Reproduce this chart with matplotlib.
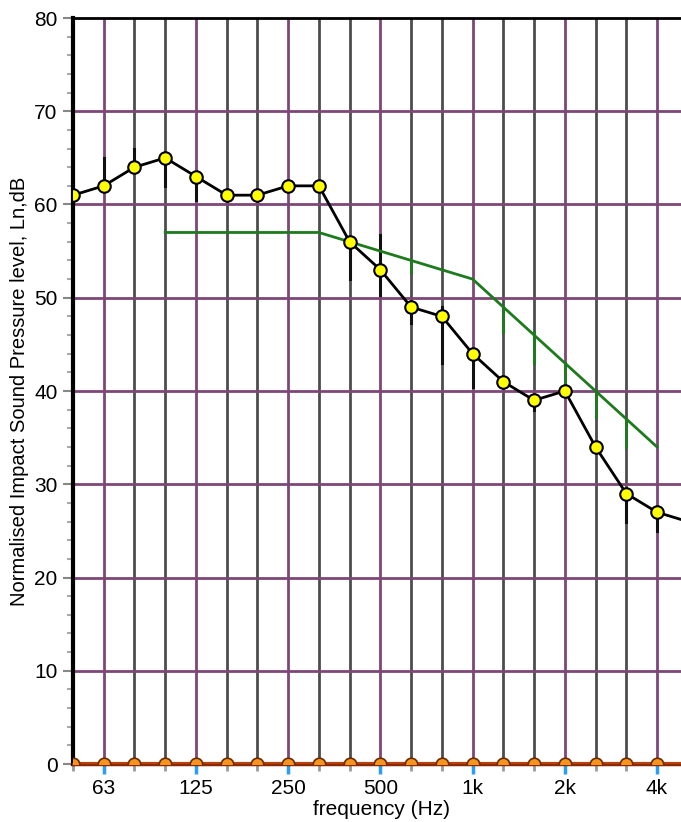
import numpy as np
import matplotlib
matplotlib.use("Agg")
import matplotlib.pyplot as plt
from matplotlib.ticker import FixedLocator, MultipleLocator

plt.rcParams['font.family'] = ['Liberation Sans', 'DejaVu Sans']

# ---------------- data ----------------
bands = ['50', '63', '80', '100', '125', '160', '200', '250', '315', '400', '500',
         '630', '800', '1k', '1.25k', '1.6k', '2k', '2.5k', '3.15k', '4k', '5k']
labelled = ['63', '125', '250', '500', '1k', '2k', '4k']
ln_values = [61, 62, 64, 65, 63, 61, 61, 62, 62, 56, 53, 49, 48, 44, 41, 39, 40, 34, 29, 27, 26]

ref_bands = ['100', '125', '160', '200', '250', '315', '400', '500', '630', '800', '1k',
             '1.25k', '1.6k', '2k', '2.5k', '3.15k', '4k']
ref_values = [57, 57, 57, 57, 57, 57, 56, 55, 54, 53, 52, 49, 46, 43, 40, 37, 34]

# vertical spread bars of the measured series
bar_bands = ['63', '80', '100', '125', '400', '500', '630', '800', '1k', '1.6k', '3.15k', '4k']
bar_low = [62, 64, 62, 60.5, 52, 50.3, 47.3, 43, 40.4, 38, 26, 25]
bar_high = [65, 66, 65, 63, 56, 56.7, 49, 49, 44, 39, 29, 27]

# green drop segments of the reference curve
drop_bands = ['630', '1.25k', '1.6k', '2k', '2.5k', '3.15k']
drop_high = [54, 49, 46.3, 43, 40, 37]
drop_low = [52.8, 46.3, 43, 40.8, 37.2, 34]

zero_values = [0] * len(bands)

# ---------------- figure ----------------
fig = plt.figure(figsize=(6.81, 8.22), dpi=100)
ax = fig.add_axes([73 / 681, 58 / 822, 1 - 73 / 681, 746 / 822])

pos = {b: i for i, b in enumerate(bands)}
x_all = np.arange(len(bands))

purple = '#7d4677'
dark = '#2e2e2e'

# grid lines
for b, i in pos.items():
    if b in labelled:
        ax.axvline(i, color=purple, lw=2.0, zorder=1)
    else:
        ax.axvline(i, color=dark, lw=2.0, alpha=0.85, zorder=1)
for yv in range(10, 80, 10):
    ax.axhline(yv, color=purple, lw=2.0, zorder=1)

# spread bars
for b, lo, hi in zip(bar_bands, bar_low, bar_high):
    ax.plot([pos[b], pos[b]], [lo, hi], color='#111111', lw=2.2, zorder=3)

# reference curve
xr = [pos[b] for b in ref_bands]
ax.plot(xr, ref_values, color='#1d7a1d', lw=2.0, zorder=3)
for b, hi, lo in zip(drop_bands, drop_high, drop_low):
    ax.plot([pos[b], pos[b]], [lo, hi], color='#1d7a1d', lw=2.0, zorder=3)

# measured series
ax.plot(x_all, ln_values, color='black', lw=2.0, marker='o', markersize=9,
        markerfacecolor='#ffff00', markeredgecolor='black', markeredgewidth=1.5, zorder=5)

# zero series
ax.plot(x_all, zero_values, color='#b5410f', lw=3, marker='o', markersize=9,
        markerfacecolor='#f7941d', markeredgecolor='#6b2a00', markeredgewidth=1.2, zorder=6)

ax.set_xlim(0, 19.78)
ax.set_ylim(0, 80)

# spines
ax.spines['left'].set_color('black')
ax.spines['left'].set_linewidth(3)
ax.spines['top'].set_color('black')
ax.spines['top'].set_linewidth(2)
ax.spines['right'].set_visible(False)
ax.spines['bottom'].set_color('#8b2a00')
ax.spines['bottom'].set_linewidth(2.5)

# ticks
ax.xaxis.set_major_locator(FixedLocator([pos[b] for b in labelled]))
ax.set_xticklabels(labelled)
ax.xaxis.set_minor_locator(FixedLocator([pos[b] for b in bands if b not in labelled]))
ax.tick_params(axis='x', which='major', length=7, width=2.5, color='#2a9df4',
               labelsize=15, pad=3.5)
ax.tick_params(axis='x', which='minor', length=5, width=2, color='#999999')

ax.yaxis.set_major_locator(MultipleLocator(10))
ax.yaxis.set_minor_locator(MultipleLocator(2))
ax.tick_params(axis='y', which='major', length=7, width=1.5, color='#888888',
               labelsize=15, pad=4)
ax.tick_params(axis='y', which='minor', length=4, width=1.5, color='#aaaaaa')

ax.set_xlabel('frequency (Hz)', fontsize=15, labelpad=0)
ax.xaxis.set_label_coords(0.507, -0.0485)
ax.set_ylabel('Normalised Impact Sound Pressure level, Ln,dB', fontsize=14.5, labelpad=4)

fig.savefig('out.png', dpi=100)
